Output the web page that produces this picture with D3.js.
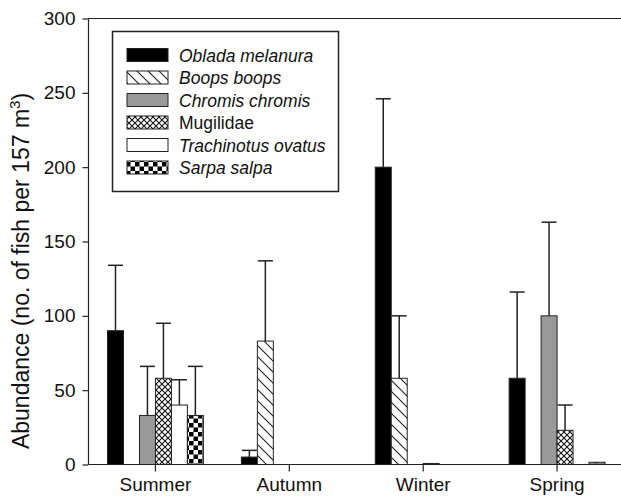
<!DOCTYPE html>
<html>
<head>
<meta charset="utf-8">
<script src="https://cdn.jsdelivr.net/npm/d3@7"></script>
<style>
  html, body { margin: 0; padding: 0; background: #fff; }
  svg { display: block; font-family: "Liberation Sans", Arial, sans-serif; }
</style>
</head>
<body>
<div id="chart"></div>
<script>
// Seasonal abundance of fish species (mean + SE, fish per 157 m³)
const seasons = ["Summer", "Autumn", "Winter", "Spring"];
const species = ["Oblada melanura", "Boops boops", "Chromis chromis", "Mugilidae", "Trachinotus ovatus", "Sarpa salpa"];
const italicName = [true, true, true, false, true, true];

// Mean abundance per species, one value per season
const obladaMean      = [90, 5, 200, 58];
const boopsMean       = [0, 83, 58, 0];
const chromisMean     = [33, 0, 0, 100];
const mugilidaeMean   = [58, 0, 0.7, 23];
const trachinotusMean = [40, 0, 0, 0];
const sarpaMean       = [33, 0, 0, 1.5];

// Upper error (SE) per species, one value per season
const obladaErr      = [44, 4.5, 46, 58];
const boopsErr       = [0, 54, 42, 0];
const chromisErr     = [33, 0, 0, 63];
const mugilidaeErr   = [37, 0, 0, 17];
const trachinotusErr = [17, 0, 0, 0];
const sarpaErr       = [33, 0, 0, 0];

const yTicks = [0, 50, 100, 150, 200, 250, 300];

const means = [obladaMean, boopsMean, chromisMean, mugilidaeMean, trachinotusMean, sarpaMean];
const errs  = [obladaErr, boopsErr, chromisErr, mugilidaeErr, trachinotusErr, sarpaErr];

const rows = [];
seasons.forEach((s, si) => {
  species.forEach((sp, k) => {
    rows.push({ season: s, species: sp, k, mean: means[k][si], err: errs[k][si] });
  });
});

const W = 621, H = 497;
const margin = { left: 88.5, right: -3, top: 18.5, bottom: 32.5 };
const ink = "#222";

const svg = d3.select("#chart").append("svg")
  .attr("width", W).attr("height", H);

// Fill patterns for each species
const defs = svg.append("defs");

const diag = defs.append("pattern").attr("id", "pDiag")
  .attr("patternUnits", "userSpaceOnUse").attr("width", 11).attr("height", 11);
diag.append("rect").attr("width", 11).attr("height", 11).attr("fill", "#fff");
diag.append("path").attr("d", "M-1,-1 L12,12 M-1,10 L1,12 M10,-1 L12,1")
  .attr("stroke", ink).attr("stroke-width", 1.1);

const cross = defs.append("pattern").attr("id", "pCross")
  .attr("patternUnits", "userSpaceOnUse").attr("width", 6).attr("height", 6);
cross.append("rect").attr("width", 6).attr("height", 6).attr("fill", "#fff");
cross.append("path").attr("d", "M0,0 L6,6 M6,0 L0,6")
  .attr("stroke", "#111").attr("stroke-width", 1.1);

const checker = defs.append("pattern").attr("id", "pChecker")
  .attr("patternUnits", "userSpaceOnUse").attr("width", 9).attr("height", 9);
checker.append("rect").attr("width", 9).attr("height", 9).attr("fill", "#fff");
checker.append("rect").attr("width", 4.5).attr("height", 4.5).attr("fill", "#000");
checker.append("rect").attr("x", 4.5).attr("y", 4.5).attr("width", 4.5).attr("height", 4.5).attr("fill", "#000");

const fills = ["#000", "url(#pDiag)", "#999", "url(#pCross)", "#fff", "url(#pChecker)"];

// Scales
const x0 = d3.scaleBand().domain(seasons)
  .range([margin.left, W - margin.right]).padding(0);
const groupW = x0.bandwidth() * 0.716;
const x1 = d3.scaleBand().domain(species)
  .range([(x0.bandwidth() - groupW) / 2, (x0.bandwidth() + groupW) / 2]).padding(0);
const y = d3.scaleLinear().domain([0, 300]).range([H - margin.bottom, margin.top]);

// Top frame line
svg.append("line")
  .attr("x1", margin.left).attr("x2", W)
  .attr("y1", y(300)).attr("y2", y(300))
  .attr("stroke", ink).attr("stroke-width", 1.2);

// Bars
const bars = svg.append("g");
bars.selectAll("rect").data(rows.filter(d => d.mean > 0)).join("rect")
  .attr("x", d => x0(d.season) + x1(d.species))
  .attr("y", d => y(d.mean))
  .attr("width", x1.bandwidth())
  .attr("height", d => y(0) - y(d.mean))
  .attr("fill", d => fills[d.k])
  .attr("stroke", ink).attr("stroke-width", 1);

// Error bars (upper only)
const eb = svg.append("g").attr("stroke", ink).attr("stroke-width", 1.5);
const withErr = rows.filter(d => d.err > 0);
const cx = d => x0(d.season) + x1(d.species) + x1.bandwidth() / 2;
const capHalf = 7.5;
eb.selectAll("line.v").data(withErr).join("line").attr("class", "v")
  .attr("x1", cx).attr("x2", cx)
  .attr("y1", d => y(d.mean)).attr("y2", d => y(d.mean + d.err));
eb.selectAll("line.c").data(withErr).join("line").attr("class", "c")
  .attr("x1", d => cx(d) - capHalf).attr("x2", d => cx(d) + capHalf)
  .attr("y1", d => y(d.mean + d.err)).attr("y2", d => y(d.mean + d.err));

// Axes
const yAxis = d3.axisLeft(y).tickValues(yTicks).tickSize(6).tickPadding(7);
const gy = svg.append("g").attr("transform", `translate(${margin.left},0)`).call(yAxis);
gy.select(".domain").attr("stroke", ink).attr("stroke-width", 1.2)
  .attr("d", `M0,${y(300)}V${y(0)}`);
gy.selectAll(".tick line").attr("stroke", ink).attr("stroke-width", 1.2);
gy.selectAll(".tick text").attr("font-size", 19).attr("fill", "#111")
  .attr("font-family", "Liberation Sans, Arial, sans-serif");

const xAxis = d3.axisBottom(x0).tickSize(7).tickPadding(6);
const gx = svg.append("g").attr("transform", `translate(0,${y(0)})`).call(xAxis);
gx.select(".domain").attr("stroke", ink).attr("stroke-width", 1.2)
  .attr("d", `M${margin.left},0H${W}`);
gx.selectAll(".tick line").attr("stroke", ink).attr("stroke-width", 1.2);
gx.selectAll(".tick text").attr("font-size", 19).attr("fill", "#111")
  .attr("font-family", "Liberation Sans, Arial, sans-serif");

// Y axis title
const yt = svg.append("text")
  .attr("transform", `translate(29,271) rotate(-90)`)
  .attr("text-anchor", "middle")
  .attr("font-size", 23).attr("fill", "#111");
yt.append("tspan").text("Abundance (no. of fish per 157 m");
yt.append("tspan").attr("dy", -9).attr("font-size", 15).text("3");
yt.append("tspan").attr("dy", 9).text(")");

// Legend
const lg = svg.append("g");
lg.append("rect").attr("x", 112.5).attr("y", 31.5).attr("width", 226).attr("height", 160)
  .attr("fill", "#fff").attr("stroke", ink).attr("stroke-width", 1.5);
const rowY = i => 55 + i * 22.5;
const items = lg.selectAll("g.item").data(species).join("g").attr("class", "item");
items.append("rect")
  .attr("x", 127).attr("y", (d, i) => rowY(i) - 6.5)
  .attr("width", 41).attr("height", 13)
  .attr("fill", (d, i) => fills[i])
  .attr("stroke", ink).attr("stroke-width", 1);
items.append("text")
  .attr("x", 179).attr("y", (d, i) => rowY(i) + 6.5)
  .attr("font-size", 17.5).attr("fill", "#111")
  .attr("font-style", (d, i) => italicName[i] ? "italic" : "normal")
  .text(d => d);
</script>
</body>
</html>
